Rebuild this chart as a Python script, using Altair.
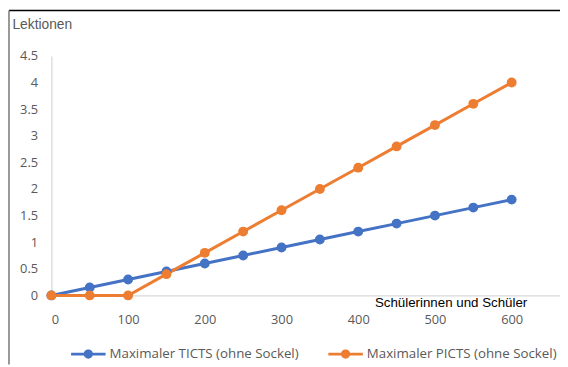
import altair as alt
import pandas as pd

schueler = [0, 50, 100, 150, 200, 250, 300, 350, 400, 450, 500, 550, 600]
ticts = [0, 0.15, 0.3, 0.45, 0.6, 0.75, 0.9, 1.05, 1.2, 1.35, 1.5, 1.65, 1.8]
picts = [0, 0, 0, 0.4, 0.8, 1.2, 1.6, 2.0, 2.4, 2.8, 3.2, 3.6, 4.0]
series_names = ["Maximaler TICTS (ohne Sockel)", "Maximaler PICTS (ohne Sockel)"]
series_colors = ["#4472C4", "#ED7D31"]
x_ticks = [0, 100, 200, 300, 400, 500, 600]
y_ticks = [0, 0.5, 1, 1.5, 2, 2.5, 3, 3.5, 4, 4.5]

rows = []
for name, vals in zip(series_names, [ticts, picts]):
    for xv, yv in zip(schueler, vals):
        rows.append({"Serie": name, "x": xv, "y": yv})
df = pd.DataFrame(rows)

W = 516
H = 243

legend_path = ("M-1,-0.08 L1,-0.08 L1,0.08 L-1,0.08 Z "
               "M-0.27,0 A0.27,0.27 0 1,1 0.27,0 A0.27,0.27 0 1,1 -0.27,0 Z")

x_enc = alt.X("x:Q",
              scale=alt.Scale(domain=[0, 663], nice=False, zero=True),
              axis=alt.Axis(values=x_ticks, title="Schülerinnen und Schüler",
                            titleX=405, titleY=7,
                            titleAlign="center", titleBaseline="middle",
                            titleFont="Liberation Sans", titleFontSize=13.5,
                            titleFontWeight="normal", titleColor="#000000",
                            labelFont="Open Sans", labelFontSize=13,
                            labelColor="#595959", labelPadding=18,
                            ticks=False, grid=False, domainColor="#d9d9d9",
                            domainWidth=1.3))
y_enc = alt.Y("y:Q",
              scale=alt.Scale(domain=[0, 4.5], nice=False),
              axis=alt.Axis(values=y_ticks, title="Lektionen", format=".1~f",
                            titleAngle=0, titleX=-40, titleY=-32,
                            titleAlign="left", titleBaseline="middle",
                            titleFont="Liberation Sans", titleFontSize=14,
                            titleFontWeight="normal", titleColor="#595959",
                            labelFont="Open Sans", labelFontSize=13,
                            labelColor="#595959", labelPadding=14,
                            ticks=False, grid=False, domainColor="#d9d9d9",
                            domainWidth=1.3))
color_scale = alt.Scale(domain=series_names, range=series_colors)

base = alt.Chart(df)
lines = base.mark_line(strokeWidth=3).encode(
    x=x_enc, y=y_enc,
    color=alt.Color("Serie:N", scale=color_scale, legend=None),
)
points = base.mark_point(filled=True, size=100, opacity=1).encode(
    x=x_enc, y=y_enc,
    color=alt.Color("Serie:N", scale=color_scale,
                    legend=alt.Legend(
                        title=None, orient="none", direction="horizontal",
                        legendX=20, legendY=285,
                        symbolType=legend_path, symbolSize=1225,
                        symbolStrokeWidth=0, symbolOpacity=1,
                        labelFont="Open Sans", labelFontSize=13.5,
                        labelColor="#595959", labelOffset=4,
                        labelLimit=400, columnPadding=30)),
)

frame_df = pd.DataFrame({"k": [0]})
top_border = alt.Chart(frame_df).mark_rule(color="#000000", strokeWidth=1.6).encode(
    x=alt.value(-43), x2=alt.value(W), y=alt.value(-46))
left_border = alt.Chart(frame_df).mark_rule(color="#7f7f7f", strokeWidth=1.6).encode(
    x=alt.value(-43), y=alt.value(-46), y2=alt.value(313))

chart = alt.layer(lines, points, top_border, left_border).resolve_legend(
    color="independent"
).properties(
    width=W, height=H,
    autosize=alt.AutoSizeParams(type="none"),
    padding={"left": 44, "top": 46, "right": 0, "bottom": 70},
    background="white",
).configure_view(stroke=None)

chart.save("out.html", embed_options={"renderer": "svg", "actions": False})
